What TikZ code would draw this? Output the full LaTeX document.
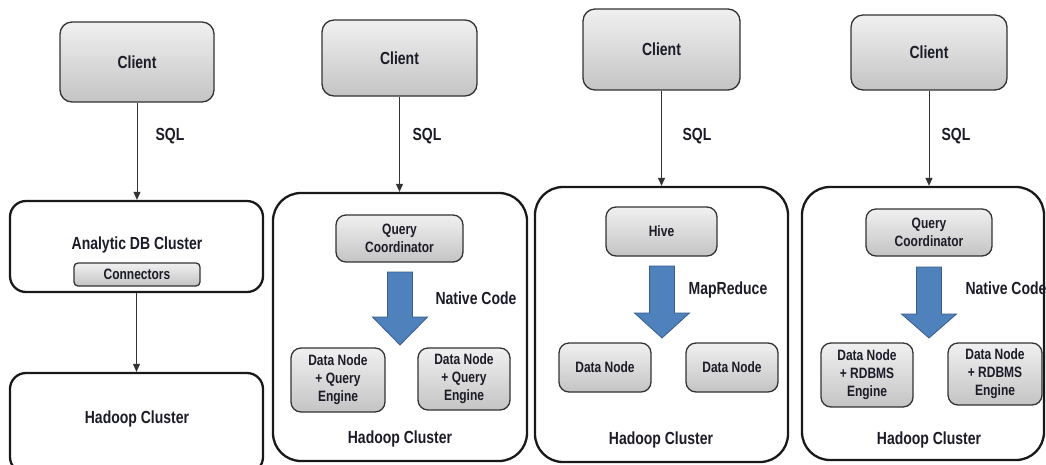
\documentclass[tikz,border=0pt]{standalone}
\usepackage{fontspec}
\setmainfont{Liberation Sans}[FakeStretch=0.8]
\usetikzlibrary{arrows.meta}
\definecolor{boxtop}{HTML}{F0F0F0}
\definecolor{boxbot}{HTML}{C4C4C4}
\definecolor{arrowblue}{HTML}{4F81BD}
\definecolor{arrowedge}{HTML}{385D8A}
\definecolor{txt}{HTML}{1C1C28}
\newcommand{\blockarrow}[4]{%
  \draw[blockarr] ({#1-12.5},#2) -- ({#1+12.5},#2) -- ({#1+12.5},#3) -- ({#1+27.5},#3)
    -- (#1,#4) -- ({#1-27.5},#3) -- ({#1-12.5},#3) -- cycle;}
\begin{document}
\begin{tikzpicture}[x=1pt,y=-1pt,
  graybox/.style={draw=black!80, line width=1.3pt, rounded corners=10pt,
    top color=boxtop, bottom color=boxbot, inner sep=0pt, text=txt, align=center,
    font=\bfseries\fontsize{15}{18}\selectfont},
  bigbox/.style={graybox, font=\bfseries\fontsize{17.5}{20}\selectfont, rounded corners=12pt},
  cluster/.style={draw=black!90, line width=2.3pt, fill=white, inner sep=0pt},
  biglabel/.style={text=txt, inner sep=0pt, font=\bfseries\fontsize{17.5}{20}\selectfont},
  conn/.style={draw=black!80, line width=1pt, -{Triangle[length=8pt,width=7pt]}},
  blockarr/.style={fill=arrowblue, draw=arrowedge, line width=0.8pt, line join=miter}
]
\clip (0,0) rectangle (1046,464);
\fill[white] (0,0) rectangle (1046,464);

% ---------- column 1 ----------
\node[bigbox, minimum width=154pt, minimum height=80pt] (c1) at (137,62) {Client};
\node[cluster, rounded corners=16pt, minimum width=253pt, minimum height=91pt] (adb) at (136.5,246.5) {};
\node[biglabel] (adbl) at (137,245) {Analytic DB Cluster};
\node[graybox, rounded corners=4pt, minimum width=126pt, minimum height=23pt] (con) at (137,274.5) {Connectors};
\node[cluster, rounded corners=16pt, minimum width=253pt, minimum height=100pt] (h1) at (136.5,423) {};
\node[biglabel] (h1l) at (137,419) {Hadoop Cluster};
\draw[conn] (c1.south) -- (c1.south |- adb.north);
\node[biglabel] (sql1) at (170,136) {SQL};
\draw[conn] (adb.south) -- (adb.south |- h1.north);

% ---------- column 2 ----------
\node[bigbox, minimum width=155pt, minimum height=76pt] (c2) at (399.5,58) {Client};
\node[cluster, rounded corners=28pt, minimum width=254pt, minimum height=268pt] (h2) at (400,327) {};
\draw[conn] (c2.south) -- (c2.south |- h2.north);
\node[biglabel] (sql2) at (427,136) {SQL};
\node[graybox, minimum width=127pt, minimum height=47pt] (qc2) at (399.5,238.5) {Query\\Coordinator};
\blockarrow{400}{272}{317}{345}
\node[biglabel] (nc2) at (476,298) {Native Code};
\node[graybox, minimum width=94pt, minimum height=64pt] (d2a) at (338,380) {Data Node\\+ Query\\Engine};
\node[graybox, minimum width=92pt, minimum height=62pt] (d2b) at (464,379) {Data Node\\+ Query\\Engine};
\node[biglabel] (h2l) at (400,439) {Hadoop Cluster};

% ---------- column 3 ----------
\node[bigbox, minimum width=157pt, minimum height=81pt] (c3) at (661.5,49.5) {Client};
\node[cluster, rounded corners=28pt, minimum width=253pt, minimum height=275pt] (h3) at (661.5,324.5) {};
\draw[conn] (c3.south) -- (c3.south |- h3.north);
\node[biglabel] (sql3) at (697,136) {SQL};
\node[graybox, minimum width=111pt, minimum height=49pt] (hive) at (661.5,231.5) {Hive};
\blockarrow{662}{266}{313}{338}
\node[biglabel] (mr) at (728,290) {MapReduce};
\node[graybox, minimum width=92pt, minimum height=49pt] (d3a) at (605,367.5) {Data Node};
\node[graybox, minimum width=92pt, minimum height=49pt] (d3b) at (732,367.5) {Data Node};
\node[biglabel] (h3l) at (661,440) {Hadoop Cluster};

% ---------- column 4 ----------
\node[bigbox, minimum width=156pt, minimum height=75pt] (c4) at (929,52.5) {Client};
\node[cluster, rounded corners=28pt, minimum width=242pt, minimum height=273pt] (h4) at (923,323.5) {};
\draw[conn] (c4.south) -- (c4.south |- h4.north);
\node[biglabel] (sql4) at (956,136) {SQL};
\node[graybox, minimum width=126pt, minimum height=47pt] (qc4) at (929,232.5) {Query\\Coordinator};
\blockarrow{929}{267}{314}{338}
\node[biglabel] (nc4) at (1006,288) {Native Code};
\node[graybox, minimum width=92pt, minimum height=64pt] (d4a) at (867,375) {Data Node\\+ RDBMS\\Engine};
\node[graybox, minimum width=94pt, minimum height=62pt] (d4b) at (995,374) {Data Node\\+ RDBMS\\Engine};
\node[biglabel] (h4l) at (929,440) {Hadoop Cluster};
\end{tikzpicture}
\end{document}
